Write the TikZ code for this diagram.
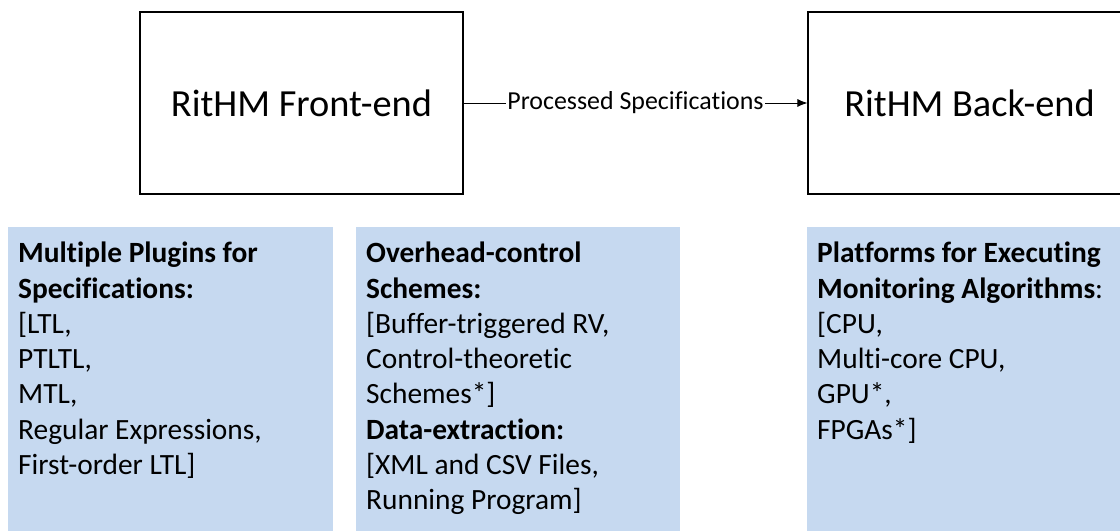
\documentclass[tikz,border=0pt]{standalone}
\usepackage{fontspec}
\setmainfont{Carlito}[Ligatures=NoCommon]
\usepackage{tikz}
\usetikzlibrary{positioning}
\usetikzlibrary{arrows.meta}
\definecolor{panelblue}{RGB}{198,217,240}

\begin{document}
\begin{tikzpicture}
    [
    x=1bp, y=-1bp,
    stage/.style={draw=black, line width=1.2bp, minimum width=323bp, minimum height=182bp, font=\fontsize{38.5}{46}\selectfont},
    panel/.style={fill=panelblue, anchor=north west, inner xsep=10bp, inner ysep=11bp, font=\fontsize{29.5}{35.4}\selectfont},
    flow/.style={fill=white, inner sep=1bp, font=\fontsize{26}{31}\selectfont},
    ]
    \useasboundingbox (0,0) rectangle (1120,531);
    \clip (0,0) rectangle (1120,531);

    \node (front) at (301.5,103) [stage] {RitHM Front-end};
    \node (back) at (969.5,103) [stage] {RitHM Back-end};
    \draw [-{Latex[length=10bp,width=8bp]}, line width=0.8bp] (front) to node [flow] {Processed Specifications} (back);

    \node (plugins) at (8,227) [panel] {\parbox[t][310bp][t]{305bp}{\strut\textbf{Multiple Plugins for}\\
      \textbf{Specifications:}\\
      {[}LTL,\\
      PTLTL,\\
      MTL,\\
      Regular Expressions,\\
      First-order LTL]}};
    \node (schemes) at (356,227) [panel] {\parbox[t][310bp][t]{304bp}{\strut\textbf{Overhead-control}\\
      \textbf{Schemes:}\\
      {[}Buffer-triggered RV,\\
      Control-theoretic\\
      Schemes*]\\
      \textbf{Data-extraction:}\\
      {[}XML and CSV Files,\\
      Running Program]}};
    \node (platforms) at (807,227) [panel] {\parbox[t][310bp][t]{305bp}{\strut\textbf{Platforms for Executing}\\
      \textbf{Monitoring Algorithms}:\\
      {[}CPU,\\
      Multi-core CPU,\\
      GPU*,\\
      FPGAs*]}};
\end{tikzpicture}
\end{document}
